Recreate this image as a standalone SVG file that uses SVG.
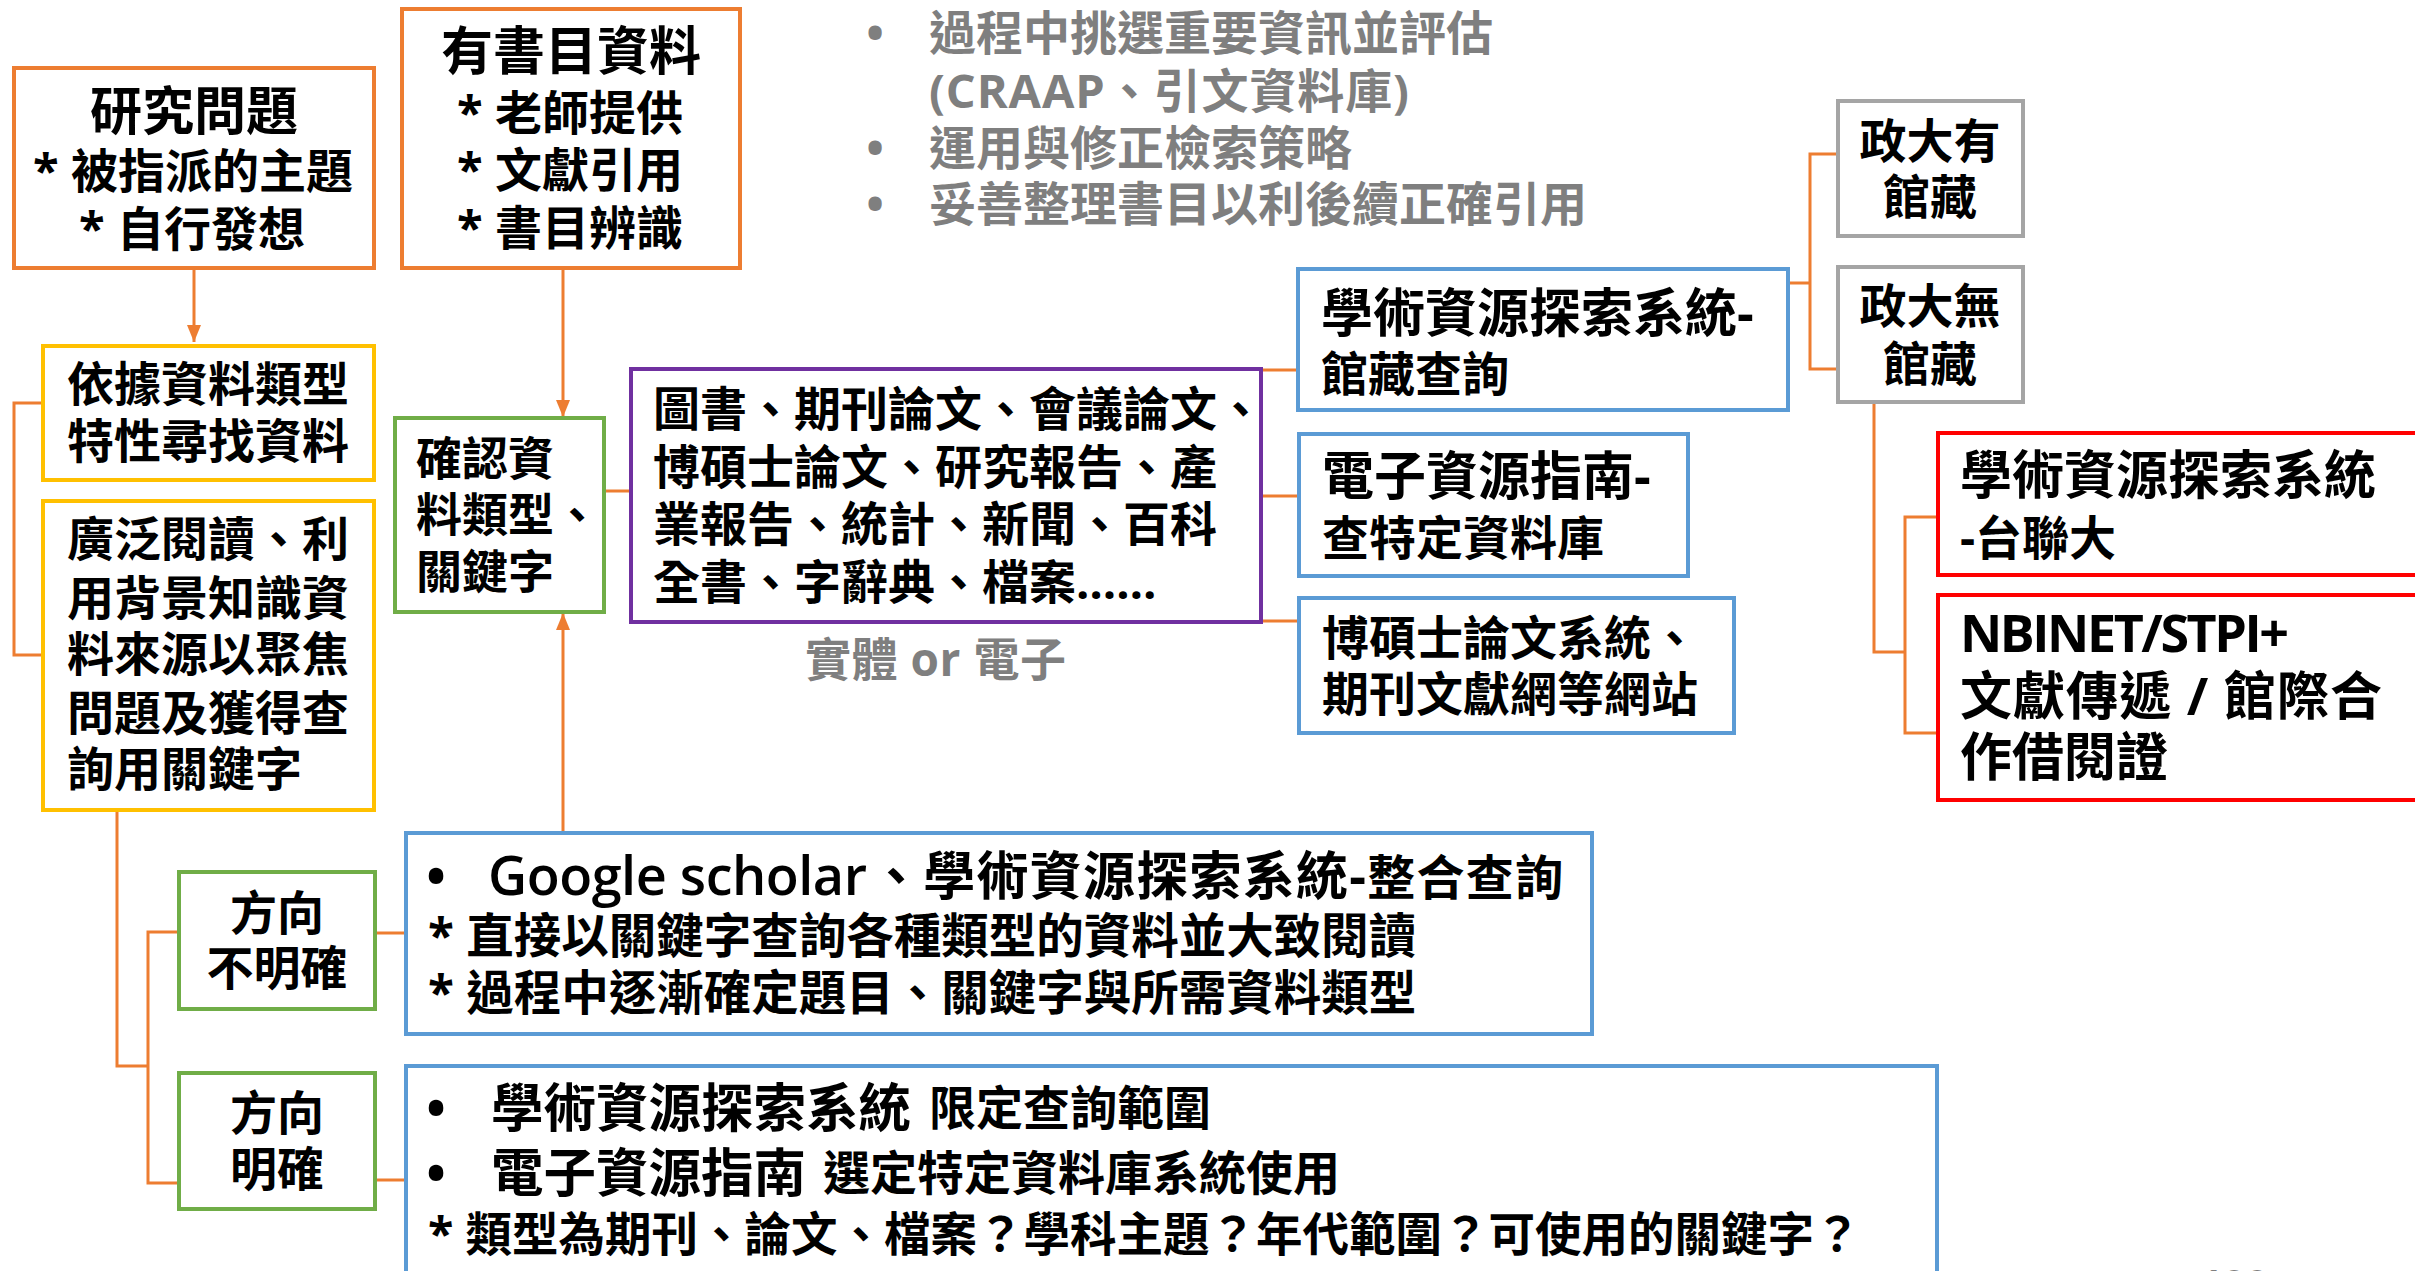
<svg xmlns="http://www.w3.org/2000/svg" width="2415" height="1271" viewBox="0 0 2415 1271">
<defs>
<style>
text{font-family:"Open Sans","Noto Sans CJK TC",sans-serif;font-weight:700;fill:#000;}
.t{font-size:47px;}
.h{font-size:52px;}
.m{text-anchor:middle;}
.g{fill:#7F7F7F;}
.lat{font-weight:600;}
.box{fill:#fff;stroke-width:4;}
.or{stroke:#ED7D31;}
.ye{stroke:#FFC000;}
.gr{stroke:#70AD47;}
.pu{stroke:#7030A0;}
.bl{stroke:#5B9BD5;}
.gy{stroke:#A5A5A5;}
.rd{stroke:#FF0000;}
.c{fill:none;stroke:#ED7D31;stroke-width:3;}
</style>
<marker id="arr" viewBox="0 0 17 14" refX="17" refY="7" markerWidth="17" markerHeight="14" markerUnits="userSpaceOnUse" orient="auto">
<path d="M0,0 L17,7 L0,14 z" fill="#ED7D31"/>
</marker>
</defs>
<rect width="2415" height="1271" fill="#fff"/>

<g id="connectors">
<path class="c" d="M194,268 V342" marker-end="url(#arr)"/>
<path class="c" d="M563,268 V417" marker-end="url(#arr)"/>
<path class="c" d="M563,833 V613" marker-end="url(#arr)"/>
<path class="c" d="M43,403 H14 V655 H43"/>
<path class="c" d="M604,491 H631"/>
<path class="c" d="M1261,370 H1298"/>
<path class="c" d="M1261,496 H1299"/>
<path class="c" d="M1261,621 H1299"/>
<path class="c" d="M1788,283 H1810"/>
<path class="c" d="M1838,154 H1810 V369 H1838"/>
<path class="c" d="M1874,402 V652 H1905"/>
<path class="c" d="M1938,517 H1905 V733 H1938"/>
<path class="c" d="M117,810 V1066 H148"/>
<path class="c" d="M179,932 H148 V1183 H179"/>
<path class="c" d="M375,933 H406"/>
<path class="c" d="M375,1180 H406"/>
</g>

<g id="notes">
<text class="t g m" x="875" y="50">•</text>
<text class="t g" x="929" y="50">過程中挑選重要資訊並評估</text>
<text class="t g" x="929" y="108" textLength="480">(CRAAP、引文資料庫)</text>
<text class="t g m" x="875" y="165">•</text>
<text class="t g" x="929" y="165">運用與修正檢索策略</text>
<text class="t g m" x="875" y="221">•</text>
<text class="t g" x="929" y="221">妥善整理書目以利後續正確引用</text>
</g>

<g id="n-research">
<rect class="box or" x="14" y="68" width="360" height="200"/>
<text class="h m" x="194" y="130">研究問題</text>
<text class="t m" x="193" y="188">* 被指派的主題</text>
<text class="t m" x="192" y="246">* 自行發想</text>
</g>

<g id="n-biblio">
<rect class="box or" x="402" y="9" width="338" height="259"/>
<text class="h m" x="571" y="70">有書目資料</text>
<text class="t m" x="570" y="130">* 老師提供</text>
<text class="t m" x="570" y="187">* 文獻引用</text>
<text class="t m" x="570" y="245">* 書目辨識</text>
</g>

<g id="n-bytype">
<rect class="box ye" x="43" y="346" width="331" height="134"/>
<text class="t" x="67" y="401">依據資料類型</text>
<text class="t" x="67" y="458">特性尋找資料</text>
</g>

<g id="n-broad">
<rect class="box ye" x="43" y="501" width="331" height="309"/>
<text class="t" x="67" y="556">廣泛閱讀、利</text>
<text class="t" x="67" y="615">用背景知識資</text>
<text class="t" x="67" y="671">料來源以聚焦</text>
<text class="t" x="67" y="730">問題及獲得查</text>
<text class="t" x="67" y="786">詢用關鍵字</text>
</g>

<g id="n-confirm">
<rect class="box gr" x="395" y="418" width="209" height="194"/>
<text class="t" x="416" y="475" style="font-size:46px">確認資</text>
<text class="t" x="416" y="531" style="font-size:46px">料類型、</text>
<text class="t" x="416" y="588" style="font-size:46px">關鍵字</text>
</g>

<g id="n-types">
<rect class="box pu" x="631" y="369" width="630" height="253"/>
<text class="t" x="653" y="426">圖書、期刊論文、會議論文、</text>
<text class="t" x="653" y="484">博碩士論文、研究報告、產</text>
<text class="t" x="653" y="541">業報告、統計、新聞、百科</text>
<text class="t" x="653" y="599">全書、字辭典、檔案……</text>
</g>

<g id="label-format">
<text class="g" x="805" y="676" style="font-size:46px" textLength="261">實體 or 電子</text>
</g>

<g id="n-discovery">
<rect class="box bl" x="1298" y="269" width="490" height="141"/>
<text class="h" x="1321" y="332">學術資源探索系統-</text>
<text class="t" x="1321" y="391">館藏查詢</text>
</g>

<g id="n-eguide">
<rect class="box bl" x="1299" y="434" width="389" height="142"/>
<text class="h" x="1322" y="495">電子資源指南-</text>
<text class="t" x="1322" y="555">查特定資料庫</text>
</g>

<g id="n-thesis">
<rect class="box bl" x="1299" y="598" width="435" height="135"/>
<text class="t" x="1322" y="655">博碩士論文系統、</text>
<text class="t" x="1322" y="711">期刊文獻網等網站</text>
</g>

<g id="n-have">
<rect class="box gy" x="1838" y="101" width="185" height="135"/>
<text class="t m" x="1930" y="158">政大有</text>
<text class="t m" x="1930" y="214">館藏</text>
</g>

<g id="n-nothave">
<rect class="box gy" x="1838" y="267" width="185" height="135"/>
<text class="t m" x="1930" y="323">政大無</text>
<text class="t m" x="1930" y="381">館藏</text>
</g>

<g id="n-union">
<rect class="box rd" x="1938" y="433" width="492" height="142"/>
<text class="h" x="1960" y="494">學術資源探索系統</text>
<text class="t" x="1960" y="555">-台聯大</text>
</g>

<g id="n-ill">
<rect class="box rd" x="1938" y="595" width="492" height="205"/>
<text class="h" x="1960" y="652" textLength="329">NBINET/STPI+</text>
<text class="h" x="1960" y="715" textLength="422">文獻傳遞 / 館際合</text>
<text class="h" x="1960" y="776">作借閱證</text>
</g>

<g id="n-unclear">
<rect class="box gr" x="179" y="872" width="196" height="137"/>
<text class="t m" x="277" y="930">方向</text>
<text class="t m" x="277" y="985">不明確</text>
</g>

<g id="n-clear">
<rect class="box gr" x="179" y="1073" width="196" height="136"/>
<text class="t m" x="277" y="1130">方向</text>
<text class="t m" x="277" y="1186">明確</text>
</g>

<g id="n-google">
<rect class="box bl" x="406" y="833" width="1186" height="201"/>
<text class="h m" x="436" y="895">•</text>
<text class="lat" x="488" y="895" style="font-size:54px" textLength="379">Google scholar</text>
<text class="h" x="870" y="895" textLength="693">、學術資源探索系統-<tspan style="font-size:48px">整合查詢</tspan></text>
<text x="428" y="953" style="font-size:47.5px">* 直接以關鍵字查詢各種類型的資料並大致閱讀</text>
<text x="428" y="1010" style="font-size:47.5px">* 過程中逐漸確定題目、關鍵字與所需資料類型</text>
</g>

<g id="n-directed">
<rect class="box bl" x="406" y="1066" width="1531" height="224"/>
<text class="h m" x="436" y="1127">•</text>
<text x="491" y="1127" style="font-size:52.5px">學術資源探索系統</text>
<text class="t" x="929" y="1125">限定查詢範圍</text>
<text class="h m" x="436" y="1192">•</text>
<text x="491" y="1192" style="font-size:52.5px">電子資源指南</text>
<text class="t" x="823" y="1190">選定特定資料庫系統使用</text>
<text x="428" y="1251" style="font-size:46.5px">* 類型為期刊、論文、檔案？學科主題？年代範圍？可使用的關鍵字？</text>
</g>

<g id="page-number">
<text class="g" x="2200" y="1298" style="font-size:40px">100</text>
</g>
</svg>
